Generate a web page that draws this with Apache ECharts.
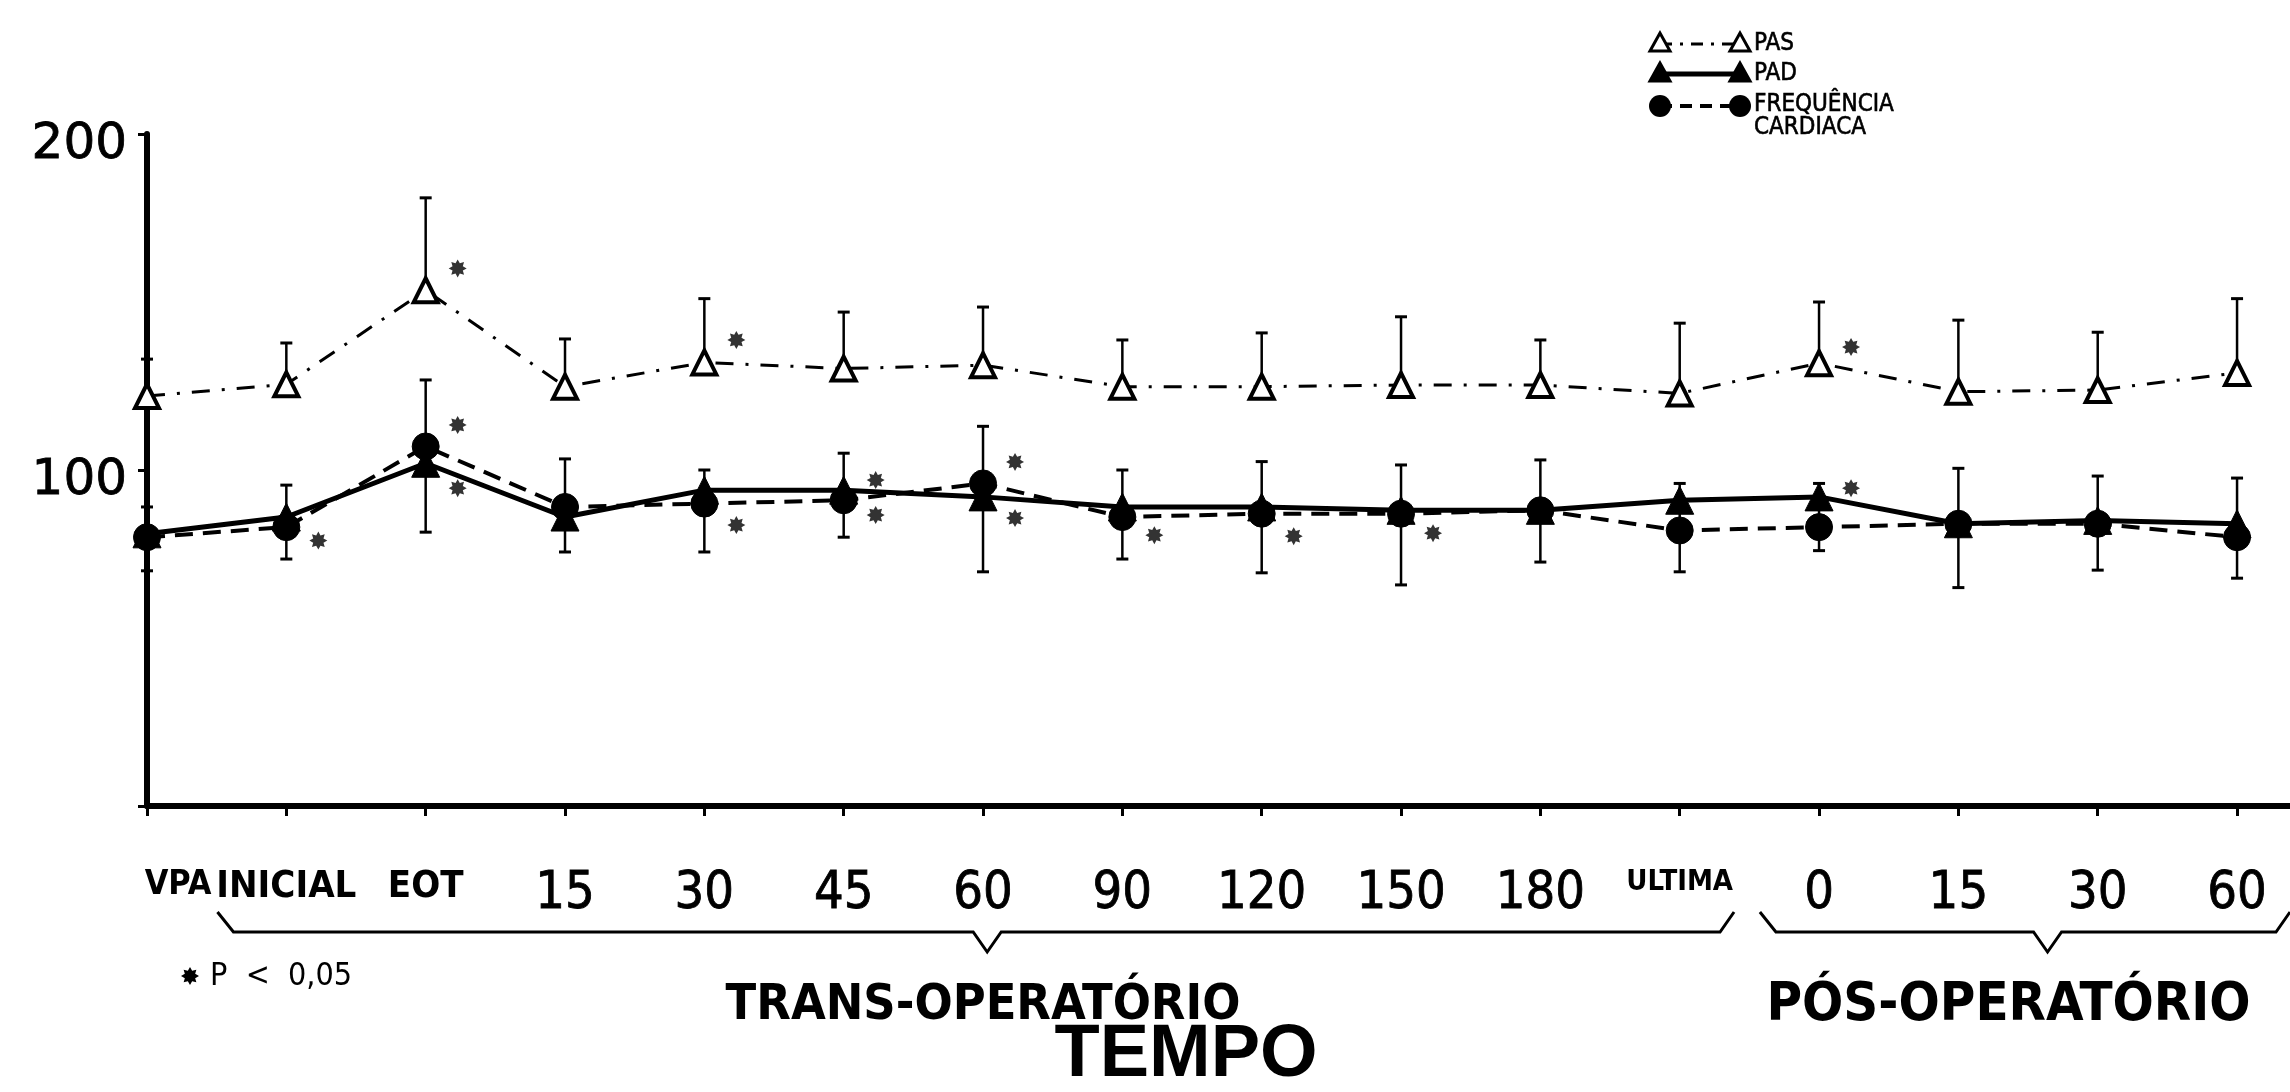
<!DOCTYPE html>
<html><head><meta charset="utf-8">
<script src="https://cdn.jsdelivr.net/npm/echarts@6/dist/echarts.min.js"></script>
<style>html,body{margin:0;padding:0;background:#fff}#c{width:2290px;height:1092px}</style>
</head><body><div id="c"></div>
<script>
// ---------------- DATA ----------------
const categories = ['VPA','INICIAL','EOT','15','30','45','60','90','120','150','180','ULTIMA','0','15','30','60'];
const pasMean  = [122, 125.5, 153.5, 124.8, 132, 130.2, 131.2, 124.8, 124.8, 125.3, 125.3, 122.8, 131.8, 123.3, 123.8, 128.9];
const pasUpper = [133, 137.8, 181, 139, 151, 147, 148.5, 138.7, 140.8, 145.6, 138.7, 143.7, 150, 144.6, 141, 151];
const padMean  = [81, 86, 102, 86, 94, 94, 92, 89, 89, 88, 88, 91, 92, 84, 85, 84];
const fcMean   = [80, 83, 107, 89, 90, 91, 96, 86, 87, 87, 88, 82, 83, 84, 84, 80];
const lowUpper = [89, 95.5, 126.8, 103.3, 100, 105, 113, 100, 102.5, 101.5, 103, 96, 96, 100.5, 98.2, 97.6];
const lowLower = [70, 73.5, 81.5, 75.6, 75.6, 80, 69.7, 73.5, 69.4, 65.8, 72.6, 69.7, 76, 65, 70.2, 67.8];
const pasStars = [[2, 160], [4, 138.7], [12, 136.6]];
const lowStars = [[1, 79], [2, 113.4], [2, 94.6], [4, 83.6], [5, 97], [5, 86.6], [6, 102.4], [6, 85.7], [7, 80.6], [8, 80.3], [9, 81.2], [12, 94.6]];
const yTickLabels = [100, 200];
const groups = [
  {name: 'TRANS-OPERATÓRIO', from: 0.52, to: 11.39, notch: 6.03, label: 6.0, size: 50},
  {name: 'PÓS-OPERATÓRIO', from: 11.59, to: 15.38, notch: 13.64, label: 13.36, size: 54}
];
const legendItems = ['PAS', 'PAD', 'FREQUÊNCIA', 'CARDIACA'];

// ---------------- CHART ----------------
const NARROW = '"Liberation Sans Narrow","DejaVu Sans Condensed",sans-serif';
const COND = '"DejaVu Sans Condensed","Liberation Sans Narrow",sans-serif';
const chart = echarts.init(document.getElementById('c'), null, {renderer: 'canvas'});

function starPoints(R) {
  const pts = [];
  for (let k = 0; k < 16; k++) {
    const a = Math.PI * k / 8 - Math.PI / 2;
    const r = k % 2 ? 0.62 : 1;
    pts.push([Math.cos(a) * r * R, Math.sin(a) * r * R]);
  }
  return pts;
}
const STAR = 'path://' + starPoints(10).map((p, k) => (k ? 'L' : 'M') + p[0].toFixed(2) + ' ' + p[1].toFixed(2)).join(' ') + ' Z';

function errRender(capLow) {
  return function (params, api) {
    const x = api.value(0), lo = api.value(1), hi = api.value(2);
    const p1 = api.coord([x, lo]), p2 = api.coord([x, hi]);
    const c = 6;
    const kids = [
      {type: 'line', shape: {x1: p1[0], y1: p1[1], x2: p2[0], y2: p2[1]}, style: {stroke: '#000', lineWidth: 2.5}},
      {type: 'line', shape: {x1: p2[0] - c, y1: p2[1], x2: p2[0] + c, y2: p2[1]}, style: {stroke: '#000', lineWidth: 3}}
    ];
    if (capLow) kids.push({type: 'line', shape: {x1: p1[0] - c, y1: p1[1], x2: p1[0] + c, y2: p1[1]}, style: {stroke: '#000', lineWidth: 3}});
    return {type: 'group', children: kids};
  };
}

const xMax = 15.38;
const option = {
  backgroundColor: '#fff',
  animation: false,
  grid: {left: 147, right: 0, top: 134, bottom: 286, containLabel: false},
  xAxis: {
    type: 'value', min: 0, max: xMax, interval: 1,
    splitLine: {show: false},
    axisLine: {show: true, onZero: false, lineStyle: {color: '#000', width: 6}},
    axisTick: {show: true, length: 10, lineStyle: {color: '#000', width: 3}},
    axisLabel: {
      show: true, margin: 62, color: '#000', showMaxLabel: false,
      formatter: function (v) {
        if (!Number.isInteger(v) || categories[v] === undefined) return '';
        const s = categories[v];
        if (/^\d+$/.test(s)) return '{n|' + s + '}';
        if (s === 'ULTIMA') return '{u|' + s + '}';
        if (v === 0) return '{v|' + s + '}';
        return '{w|' + s + '}';
      },
      rich: {
        n: {fontFamily: NARROW, fontSize: 52, color: '#000', textBorderColor: '#000', textBorderWidth: 0.8},
        w: {fontFamily: NARROW, fontSize: 38, fontWeight: 'bold', color: '#000'},
        v: {fontFamily: NARROW, fontSize: 34, fontWeight: 'bold', color: '#000', padding: [0, 0, 0, 62]},
        u: {fontFamily: NARROW, fontSize: 29, fontWeight: 'bold', color: '#000'}
      }
    }
  },
  yAxis: {
    type: 'value', min: 0, max: 200, interval: 100,
    splitLine: {show: false},
    axisLine: {show: true, lineStyle: {color: '#000', width: 6}},
    axisTick: {show: true, length: 9, lineStyle: {color: '#000', width: 3}},
    axisLabel: {
      color: '#000', fontFamily: '"DejaVu Sans",sans-serif', fontSize: 50, margin: 20,
      verticalAlign: 'top', lineHeight: 22, textBorderColor: '#000', textBorderWidth: 0.8,
      formatter: v => yTickLabels.indexOf(v) >= 0 ? String(v) : ''
    }
  },
  series: [
    {type: 'custom', name: 'pasErr', renderItem: errRender(false), z: 1,
     data: pasMean.map((v, i) => [i, v, pasUpper[i]])},
    {type: 'custom', name: 'lowErr', renderItem: errRender(true), z: 1,
     data: lowLower.map((v, i) => [i, v, lowUpper[i]])},
    {type: 'line', name: 'PAS', z: 3, data: pasMean.map((v, i) => [i, v]),
     symbol: 'triangle', symbolSize: 24, showAllSymbol: true,
     itemStyle: {color: '#fff', borderColor: '#000', borderWidth: 4},
     lineStyle: {color: '#000', width: 3, type: [18, 12, 3, 12]}},
    {type: 'line', name: 'PAD', z: 4, data: padMean.map((v, i) => [i, v]),
     symbol: 'triangle', symbolSize: 28, showAllSymbol: true,
     itemStyle: {color: '#000', borderColor: '#000', borderWidth: 1},
     lineStyle: {color: '#000', width: 5, type: 'solid'}},
    {type: 'line', name: 'FREQUÊNCIA CARDIACA', z: 5, data: fcMean.map((v, i) => [i, v]),
     symbol: 'circle', symbolSize: 27, showAllSymbol: true,
     itemStyle: {color: '#000', borderColor: '#000', borderWidth: 1},
     lineStyle: {color: '#000', width: 4, type: [18, 10]}},
    {type: 'scatter', name: 'stars', z: 6, data: pasStars.concat(lowStars),
     symbol: STAR, symbolSize: 18, symbolOffset: [32, 0],
     itemStyle: {color: '#000'}}
  ]
};
chart.setOption(option);

// ---------------- ANNOTATIONS ----------------
const g = [];
const yBr = 932;
groups.forEach(gr => {
  const x1 = chart.convertToPixel({xAxisIndex: 0}, gr.from);
  const x2 = Math.min(chart.convertToPixel({xAxisIndex: 0}, gr.to), 2290);
  const xn = chart.convertToPixel({xAxisIndex: 0}, gr.notch);
  const xl = chart.convertToPixel({xAxisIndex: 0}, gr.label);
  g.push({type: 'polyline', shape: {points: [[x1 - 2, yBr - 20], [x1 + 14, yBr], [xn - 14, yBr], [xn, yBr + 20], [xn + 14, yBr], [x2 - 14, yBr], [x2, yBr - 20]]},
          style: {stroke: '#000', lineWidth: 3, fill: null}});
  g.push({type: 'text', x: xl, y: 1006, style: {text: gr.name, fontFamily: COND, fontSize: gr.size, fontWeight: 'bold', fill: '#000', align: 'center', verticalAlign: 'middle'}});
});
g.push({type: 'text', x: 1186, y: 1056, style: {text: 'TEMPO', fontFamily: '"Liberation Sans",sans-serif', fontSize: 74, fontWeight: 'bold', fill: '#000', align: 'center', verticalAlign: 'middle'}});
g.push({type: 'polygon', shape: {points: starPoints(9).map(p => [p[0] + 190, p[1] + 976])}, style: {fill: '#000'}});
g.push({type: 'text', x: 210, y: 977, style: {text: 'P  <  0,05', fontFamily: COND, fontSize: 32, fill: '#000', align: 'left', verticalAlign: 'middle'}});

// legend
const lx1 = 1660, lx2 = 1740, tx = 1754;
const rows = [44, 74, 106];
const styles = [
  {dash: [12, 8, 3, 8], w: 3, sym: 'tri', fill: '#fff'},
  {dash: null, w: 5, sym: 'tri', fill: '#000'},
  {dash: [12, 8], w: 4, sym: 'circ', fill: '#000'}
];
rows.forEach((y, i) => {
  const s = styles[i];
  g.push({type: 'line', shape: {x1: lx1, y1: y, x2: lx2, y2: y}, style: {stroke: '#000', lineWidth: s.w, lineDash: s.dash}});
  [lx1, lx2].forEach(x => {
    if (s.sym === 'tri') g.push({type: 'polygon', shape: {points: [[x, y - 11], [x - 10, y + 7], [x + 10, y + 7]]}, style: {fill: s.fill, stroke: '#000', lineWidth: 3}});
    else g.push({type: 'circle', shape: {cx: x, cy: y, r: 11}, style: {fill: '#000'}});
  });
});
[[legendItems[0], 44], [legendItems[1], 74], [legendItems[2], 105], [legendItems[3], 128]].forEach(([t, y]) => {
  g.push({type: 'text', x: tx, y: y, style: {text: t, fontFamily: COND, fontSize: 24, fill: '#000', textStroke: '#000', stroke: '#000', lineWidth: 0.6, align: 'left', verticalAlign: 'middle'}});
});
chart.setOption({graphic: g});
</script></body></html>
